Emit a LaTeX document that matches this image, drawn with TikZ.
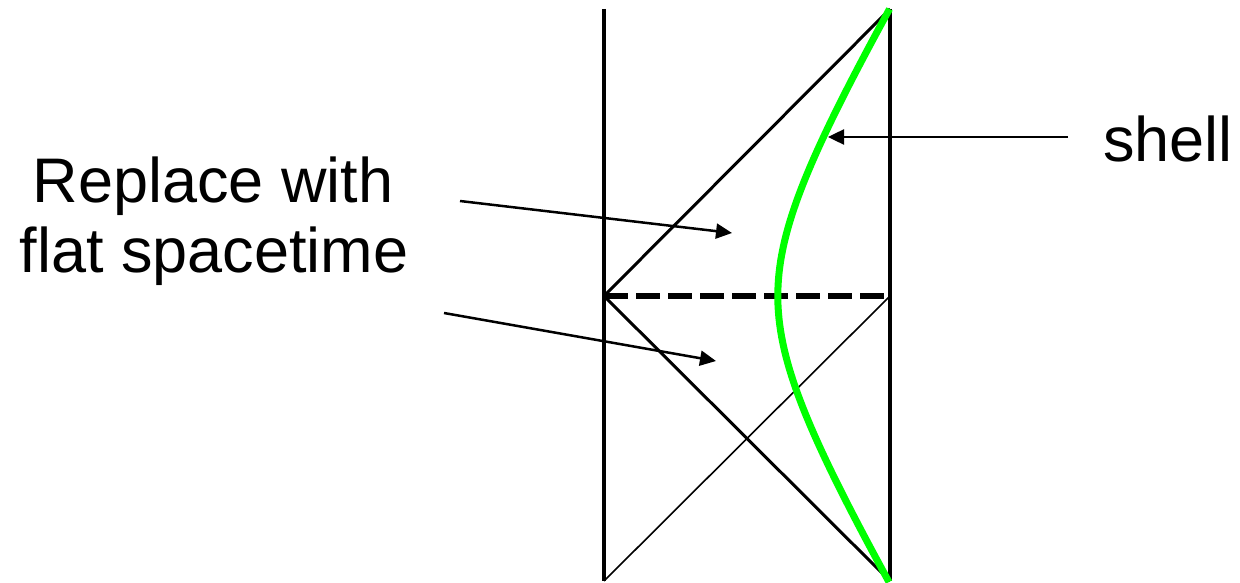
\documentclass[tikz,border=0pt]{standalone}
\usepackage{fontspec}
\setmainfont{Liberation Sans}
\usetikzlibrary{arrows.meta}
\begin{document}
\begin{tikzpicture}[x=1pt,y=-1pt,
  frame/.style={line width=4pt},
  cone/.style={line width=3pt},
  thinline/.style={line width=1.6pt},
  horizon/.style={line width=6pt,dash pattern=on 24pt off 8pt},
  shellcurve/.style={line width=7pt,draw={rgb,255:red,0;green,255;blue,0}},
  pointer/.style={line width=2.5pt,-{Triangle[length=16pt,width=15pt]}},
  label/.style={font=\fontsize{63}{72}\selectfont,inner sep=0pt,anchor=base}]
\useasboundingbox (0,0) rectangle (1240,583);
\coordinate (LT) at (604,9);
\coordinate (LB) at (604,581);
\coordinate (RT) at (890,9);
\coordinate (RB) at (890,581);
\coordinate (LM) at (604,296);
\coordinate (RM) at (890,296);
% frame
\draw[frame] (LT) -- (LB);
\draw[frame] (RT) -- (RB);
% light cones
\draw[cone] (LM) -- (RT);
\draw[cone] (LM) -- (RB);
\draw[thinline] (LB) -- (RM);
\draw[horizon] (LM) -- (RM);
% shell
\draw[shellcurve] plot[domain=-287:286,samples=90] ({701+60*sqrt(1.6384+(\x/100)^2)},{296+\x});
% labels
\node[label] (shell) at (1168,161) {shell};
\node[label] (rep1) at (213,203) {Replace with};
\node[label] (rep2) at (214,272) {flat spacetime};
% arrows
\coordinate (s1) at (1068,137);
\coordinate (t1) at (828,137);
\coordinate (s2) at (460,201);
\coordinate (t2) at (732,233);
\coordinate (s3) at (444,313);
\coordinate (t3) at (716,361);
\draw[pointer] (s1) -- (t1);
\draw[pointer] (s2) -- (t2);
\draw[pointer] (s3) -- (t3);
\end{tikzpicture}
\end{document}
